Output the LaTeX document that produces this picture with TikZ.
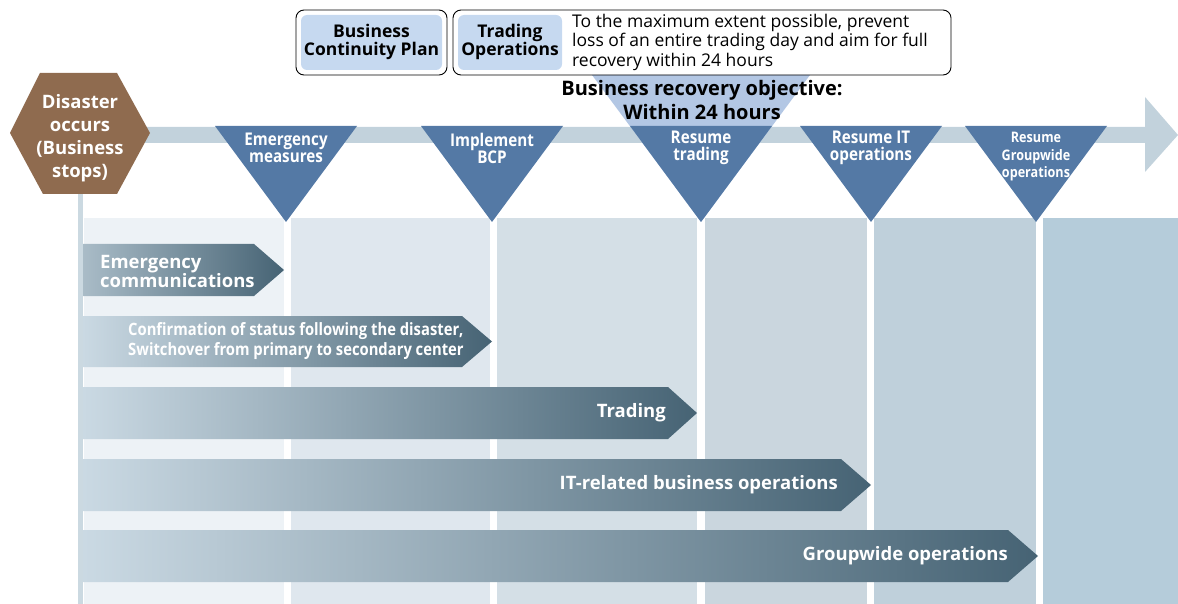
\documentclass[tikz,border=0pt]{standalone}
\usepackage{fontspec}
\setmainfont{Open Sans}
\newfontfamily\condfont[FakeStretch=0.87]{Open Sans}
\usetikzlibrary{positioning}
\definecolor{hexbrown}{HTML}{8F6B4F}
\definecolor{bandgray}{HTML}{C2D2DC}
\definecolor{trimid}{HTML}{5479A5}
\definecolor{trilight}{HTML}{B3C7E4}
\definecolor{boxblue}{HTML}{C6D9F0}
\definecolor{colA}{HTML}{EDF2F6}
\definecolor{colB}{HTML}{DFE7EE}
\definecolor{colC}{HTML}{D4DFE6}
\definecolor{colD}{HTML}{CAD6DE}
\definecolor{colE}{HTML}{BFD0DB}
\definecolor{colF}{HTML}{B5CCDA}
\definecolor{barlight}{HTML}{CAD9E3}
\definecolor{bardark}{HTML}{466374}
\tikzset{
  milestone/.style={text=white,align=center,inner sep=0pt,
    font=\condfont\bfseries\fontsize{17.5}{17}\selectfont},
  bartext/.style={text=white,align=left,inner sep=0pt,
    font=\bfseries\fontsize{18.5}{19.5}\selectfont},
  boxtext/.style={align=center,inner sep=0pt,
    font=\bfseries\fontsize{17.5}{18}\selectfont}
}
\begin{document}
\begin{tikzpicture}[x=1pt,y=-1pt]
\useasboundingbox (0,0) rectangle (1178,604);
% phase columns
\fill[colA] (84,218) rectangle (284,604);
\fill[colB] (291,218) rectangle (490,604);
\fill[colC] (497,218) rectangle (697,604);
\fill[colD] (705,218) rectangle (867,604);
\fill[colE] (874,218) rectangle (1036,604);
\fill[colF] (1043,218) rectangle (1178,604);
\fill[bandgray!85!white] (78,190) rectangle (83,604);
% time line
\fill[bandgray] (130,127) -- (1145,127) -- (1145,97) -- (1178,135)
  -- (1145,172) -- (1145,143) -- (130,143) -- cycle;
% objective triangle
\fill[trilight] (592,75) -- (810,75) -- (701,222) -- cycle;
% milestones
\fill[trimid] (215,126) -- (357,126) -- (286,222) -- cycle;
\fill[trimid] (421,126) -- (563,126) -- (492,222) -- cycle;
\fill[trimid] (630,126) -- (772,126) -- (701,222) -- cycle;
\fill[trimid] (800,126) -- (942,126) -- (871,222) -- cycle;
\fill[trimid] (965,126) -- (1107,126) -- (1036,222) -- cycle;
\node[milestone] (emerg) at (286,148) {Emergency\\measures};
\node[milestone] (bcp) at (492,148) {Implement\\BCP};
\node[milestone] (trade) at (701,148) {Resume\\trading};
\node[milestone] (itops) at (871,148) {Resume IT\\operations};
\node[milestone,font=\condfont\bfseries\fontsize{14.5}{17.5}\selectfont]
  (group) at (1036,157) {Resume\\Groupwide\\operations};
% disaster
\fill[hexbrown] (10,133) -- (40,73) -- (117,73) -- (150,133) -- (117,194)
  -- (43,194) -- cycle;
\node[text=white,align=center,inner sep=0pt,
  font=\bfseries\fontsize{18.5}{23}\selectfont] (disaster) at (80,138)
  {Disaster\\occurs\\(Business\\stops)};
% plan boxes
\draw[line width=0.9pt,rounded corners=8pt] (296,10) rectangle (447,75);
\fill[boxblue,rounded corners=6pt] (301,15) rectangle (442,70);
\node[boxtext] (bcpbox) at (371.5,42) {Business\\Continuity Plan};
\draw[line width=0.9pt,rounded corners=8pt] (453,10) rectangle (951,75);
\fill[boxblue,rounded corners=6pt] (458,15) rectangle (562,70);
\node[boxtext] (tradebox) at (510,42) {Trading\\Operations};
\node[anchor=west,align=left,inner sep=0pt,
  font=\fontsize{17.5}{19.5}\selectfont] (goal) at (572,42)
  {To the maximum extent possible, prevent\\
   loss of an entire trading day and aim for full\\
   recovery within 24 hours};
\node[align=center,inner sep=0pt,font=\bfseries\fontsize{20}{23.5}\selectfont]
  (objective) at (702,100) {Business recovery objective:\\Within 24 hours};
% phase bars
\shade[left color=bandgray!80!bardark,right color=bardark]
  (83,244) -- (254,244) -- (284,270) -- (254,296) -- (83,296) -- cycle;
\shade[left color=barlight,right color=bardark]
  (83,316) -- (462,316) -- (492,341.5) -- (462,367) -- (83,367) -- cycle;
\shade[left color=barlight,right color=bardark]
  (83,387) -- (668,387) -- (697,413) -- (668,439) -- (83,439) -- cycle;
\shade[left color=barlight,right color=bardark]
  (83,459) -- (841,459) -- (871,485) -- (841,511) -- (83,511) -- cycle;
\shade[left color=barlight,right color=bardark]
  (83,530) -- (1008,530) -- (1038,556) -- (1008,582) -- (83,582) -- cycle;
\node[bartext,anchor=west] (comms) at (100,271.5) {Emergency\\communications};
\node[bartext,anchor=west,font=\condfont\bfseries\fontsize{17}{20}\selectfont]
  (switch) at (128,341.5)
  {Confirmation of status following the disaster,\\
   Switchover from primary to secondary center};
\node[bartext,anchor=east] (tradbar) at (666,413) {Trading};
\node[bartext,anchor=east] (itbar) at (838,485) {IT-related business operations};
\node[bartext,anchor=east] (groupbar) at (1008,556) {Groupwide operations};
\end{tikzpicture}
\end{document}
